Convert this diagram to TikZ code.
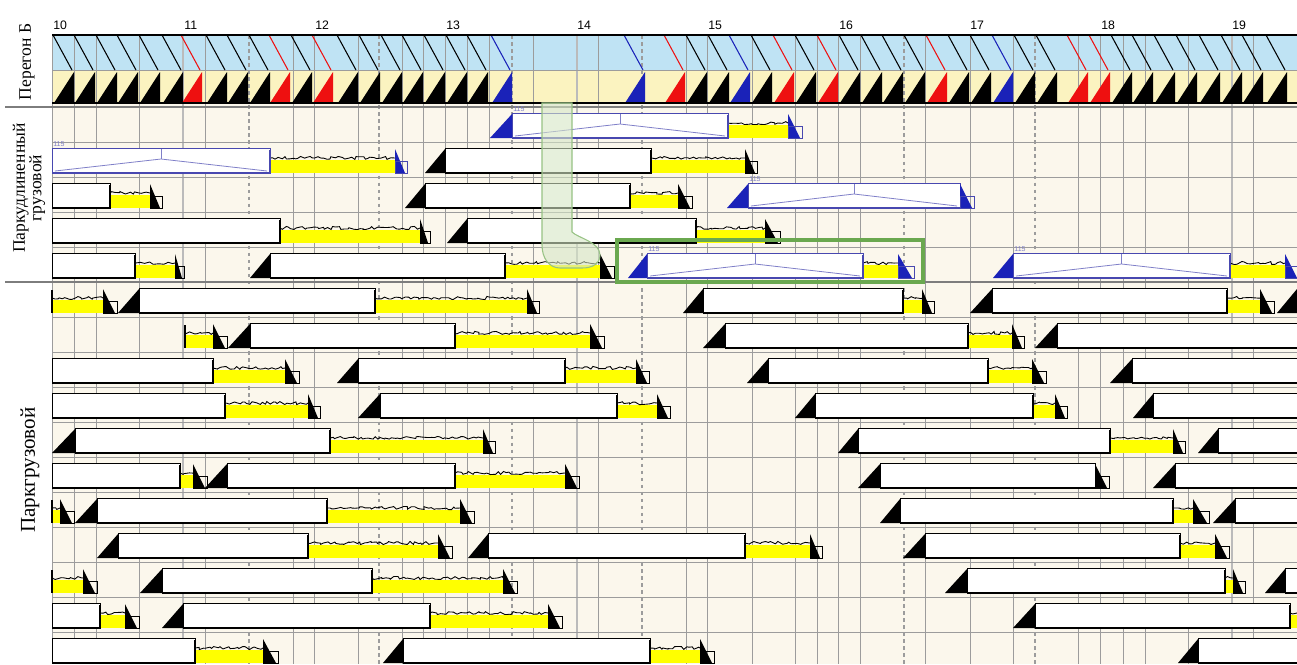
\documentclass[tikz,border=0pt]{standalone}
\usepackage{fontspec}
\setmainfont{Liberation Serif}
\newfontfamily\numfont{Liberation Sans}
\usetikzlibrary{decorations.pathmorphing}
\definecolor{bandblue}{HTML}{BFE3F4}
\definecolor{bandyellow}{HTML}{FBF3C0}
\definecolor{parkbg}{HTML}{FBF7EC}
\definecolor{gridgrey}{HTML}{9C9C9C}
\definecolor{loadyellow}{HTML}{FFFF00}
\definecolor{trainred}{HTML}{EE1010}
\definecolor{trainblue}{HTML}{1A22B8}
\definecolor{longblue}{HTML}{4848B0}
\definecolor{hiliteframe}{HTML}{6AA84F}
\definecolor{hilitefill}{HTML}{D6E6C6}

% one goods train on a track: {row top}{arrive}{box from}{box to}{load to}{leave}
\newcommand{\goods}[6]{%
  \ifdim#2pt<#3pt \fill (#2,#1+25) -- (#3,#1+25) -- (#3,#1+1) -- cycle; \fi
  \ifdim#3pt<#4pt
    \filldraw[waitbox] (#3,#1) rectangle (#4,#1+25);
    \draw[line width=1.1pt] (#3,#1+25) -- (#4,#1+25);
  \fi
  \ifdim#4pt<#5pt
    \fill[loadyellow] (#4,#1+12) rectangle (#5,#1+25);
    \draw[loadwave] (#4,#1+10) -- (#5,#1+10);
    \draw[thick] (#4,#1+2) -- (#4,#1+25);
  \fi
  \ifdim#5pt<#6pt
    \fill (#5,#1+1) -- (#5,#1+25) -- (#6,#1+25) -- cycle;
    \draw[thin] (#5,#1+13) rectangle (#6+2,#1+25);
  \fi
}
% lengthened train (115)
\newcommand{\longgoods}[6]{%
  \ifdim#2pt<#3pt \fill[trainblue] (#2,#1+25) -- (#3,#1+25) -- (#3,#1+1) -- cycle; \fi
  \ifdim#3pt<#4pt
    \filldraw[fill=white, draw=longblue] (#3,#1) rectangle (#4,#1+25);
    \draw[longblue, line width=1.1pt] (#3,#1+25) -- (#4,#1+25);
    \draw[tentline] (#3+3,#1+23) -- ({(#3+#4)/2},#1+11) -- (#4-3,#1+23);
    \draw[tentline] ({(#3+#4)/2},#1+1) -- ({(#3+#4)/2},#1+11);
    \node[tag115, name=tag-#1-#3] at (#3+1,#1-1) {115};
  \fi
  \ifdim#4pt<#5pt
    \fill[loadyellow] (#4,#1+12) rectangle (#5,#1+25);
    \draw[loadwave] (#4,#1+10) -- (#5,#1+10);
    \draw[longblue, thick] (#4,#1+2) -- (#4,#1+25);
  \fi
  \ifdim#5pt<#6pt
    \fill[trainblue] (#5,#1+1) -- (#5,#1+25) -- (#6,#1+25) -- cycle;
    \draw[longblue, thin] (#5,#1+13) rectangle (#6+2,#1+25);
  \fi
}

\begin{document}
\begin{tikzpicture}[x=0.02cm, y=-0.02cm,
    every node/.style={inner sep=0pt},
    hourlabel/.style={font=\fontsize{7}{7}\selectfont\numfont, anchor=west},
    parklabel/.style={font=\fontsize{10}{9.5}\selectfont, rotate=90, align=center},
    tag115/.style={font=\fontsize{4}{4}\selectfont\numfont, text=longblue!70, anchor=south west},
    gridline/.style={gridgrey, line width=0.5pt},
    hourline/.style={gridgrey!120!black, line width=0.9pt},
    dashline/.style={gridgrey, line width=0.6pt, dash pattern=on 2pt off 2pt},
    trackline/.style={gridgrey, line width=0.5pt},
    waitbox/.style={fill=white, draw=black, line width=0.5pt},
    loadwave/.style={black, line width=0.5pt, decorate,
        decoration={random steps, segment length=1.6pt, amplitude=0.9pt}},
    tentline/.style={longblue!70, line width=0.45pt},
]
\useasboundingbox (0,0) rectangle (1297,664);
\fill[white] (0,0) rectangle (1297,664);

% Backgrounds
\fill[bandblue] (52,35) rectangle (1297,70);
\fill[bandyellow] (52,70) rectangle (1297,103);
\fill[parkbg] (52,103) rectangle (1297,664);

% Grid
\foreach \x in {52,74,96,139,205,293,314,358,402,423,445,467,489,533,598,
    686,707,752,795,817,838,860,925,970,1013,1078,1100,1123,1145,1188,1253}
    \draw[gridline] (\x,35) -- (\x,664);
\foreach \x in {183,577,1232}
    \draw[hourline] (\x,35) -- (\x,664);
\foreach \x in {249,379,512,642,904,1035}
    \draw[dashline] (\x,35) -- (\x,664);

% Tracks
\foreach \y in {142,177,212,247,317,352,387,422,457,492,527,562,597,632}
    \draw[trackline] (52,\y) -- (1297,\y);
\draw[gridgrey!80!black, line width=0.7pt] (5,107) -- (1297,107);
\draw[gridgrey!80!black, line width=0.7pt] (5,282) -- (1297,282);

% Peregon B band
\draw[gridgrey] (52,70) -- (1297,70);
\foreach \x/\c in {74/black,95/black,117/black,138/black,160/black,183/black,
    202/trainred,227/black,248/black,270/black,290/trainred,312/black,333/trainred,
    358/black,380/black,402/black,423/black,445/black,467/black,488/black,512/trainblue,
    645/trainblue,685/trainred,707/black,729/black,750/trainblue,772/black,794/trainred,
    816/black,838/trainred,860/black,882/black,903/black,925/black,947/trainred,
    969/black,991/black,1013/trainblue,1035/black,1057/black,1088/trainred,
    1110/trainred,1132/black,1153/black,1175/black,1197/black,1220/black,
    1242/black,1263/black,1287/black} {
    \fill[\c] (\x-20,103) -- (\x,103) -- (\x,72) -- cycle;
    \draw[\c, line width=0.6pt] (\x-21,35) -- (\x-2,70);
}
\draw[line width=1pt] (52,35) -- (1297,35);
\draw[line width=1pt] (52,103) -- (1297,103);

% Park lengthened goods
\longgoods{113}{490}{512}{728}{788}{800}
\longgoods{148}{52}{52}{270}{395}{405}
\goods{148}{425}{445}{651}{745}{755}
\goods{183}{52}{52}{110}{150}{160}
\goods{183}{405}{425}{630}{678}{690}
\longgoods{183}{727}{748}{960}{960}{972}
\goods{218}{52}{52}{280}{420}{428}
\goods{218}{447}{467}{696}{765}{778}
\goods{253}{52}{52}{135}{175}{182}
\goods{253}{250}{270}{505}{600}{612}
\longgoods{253}{628}{647}{863}{898}{912}
\longgoods{253}{993}{1013}{1230}{1285}{1297}

% Park goods
\goods{288}{52}{52}{52}{103}{115}
\goods{288}{118}{139}{375}{527}{537}
\goods{288}{683}{703}{903}{922}{932}
\goods{288}{970}{992}{1227}{1260}{1272}
\goods{288}{1277}{1297}{1297}{1297}{1297}
\goods{323}{185}{185}{185}{213}{225}
\goods{323}{228}{250}{455}{590}{602}
\goods{323}{703}{725}{968}{1012}{1022}
\goods{323}{1035}{1057}{1297}{1297}{1297}
\goods{358}{52}{52}{213}{285}{297}
\goods{358}{337}{358}{565}{636}{647}
\goods{358}{747}{768}{988}{1032}{1044}
\goods{358}{1110}{1132}{1297}{1297}{1297}
\goods{393}{52}{52}{225}{308}{318}
\goods{393}{358}{380}{617}{657}{668}
\goods{393}{795}{815}{1033}{1055}{1065}
\goods{393}{1133}{1153}{1297}{1297}{1297}
\goods{428}{52}{75}{330}{483}{493}
\goods{428}{838}{858}{1110}{1173}{1183}
\goods{428}{1198}{1218}{1297}{1297}{1297}
\goods{463}{52}{52}{180}{193}{205}
\goods{463}{205}{227}{455}{565}{577}
\goods{463}{858}{880}{1095}{1095}{1107}
\goods{463}{1153}{1175}{1297}{1297}{1297}
\goods{498}{52}{52}{52}{60}{72}
\goods{498}{75}{97}{327}{460}{472}
\goods{498}{880}{900}{1173}{1193}{1207}
\goods{498}{1213}{1235}{1297}{1297}{1297}
\goods{533}{97}{118}{308}{438}{450}
\goods{533}{468}{488}{745}{810}{820}
\goods{533}{903}{925}{1180}{1215}{1227}
\goods{568}{52}{52}{52}{83}{95}
\goods{568}{140}{162}{372}{503}{515}
\goods{568}{945}{967}{1225}{1233}{1243}
\goods{568}{1265}{1285}{1297}{1297}{1297}
\goods{603}{52}{52}{100}{125}{137}
\goods{603}{162}{183}{430}{548}{560}
\goods{603}{1013}{1035}{1290}{1297}{1297}
\goods{638}{52}{52}{195}{263}{276}
\goods{638}{383}{403}{650}{700}{712}
\goods{638}{1178}{1198}{1297}{1297}{1297}

% Shift arrow and highlighted train
\filldraw[fill=hilitefill, fill opacity=0.6, draw=hiliteframe!70, line width=0.6pt]
    (542,103) -- (572,103) -- (572,232)
    .. controls (578,238) and (600,242) .. (600,255)
    .. controls (600,264) and (592,268) .. (582,268) -- (560,268)
    .. controls (549,268) and (542,258) .. (542,245) -- cycle;
\draw[hiliteframe, line width=2.3pt] (617,240) rectangle (923,282);

% Hours
\foreach \h [count=\i from 0] in {10,...,19}
    \node[hourlabel] (hour\h) at (53+131*\i,25) {\h};

% Section labels
\node[parklabel] (peregon) at (27,62) {Перегон Б};
\node[parklabel] (longpark) at (29,188) {Паркудлиненный\\грузовой};
\node[parklabel, font=\fontsize{12}{12}\selectfont] (goodspark) at (30,470) {Паркгрузовой};

\end{tikzpicture}
\end{document}
